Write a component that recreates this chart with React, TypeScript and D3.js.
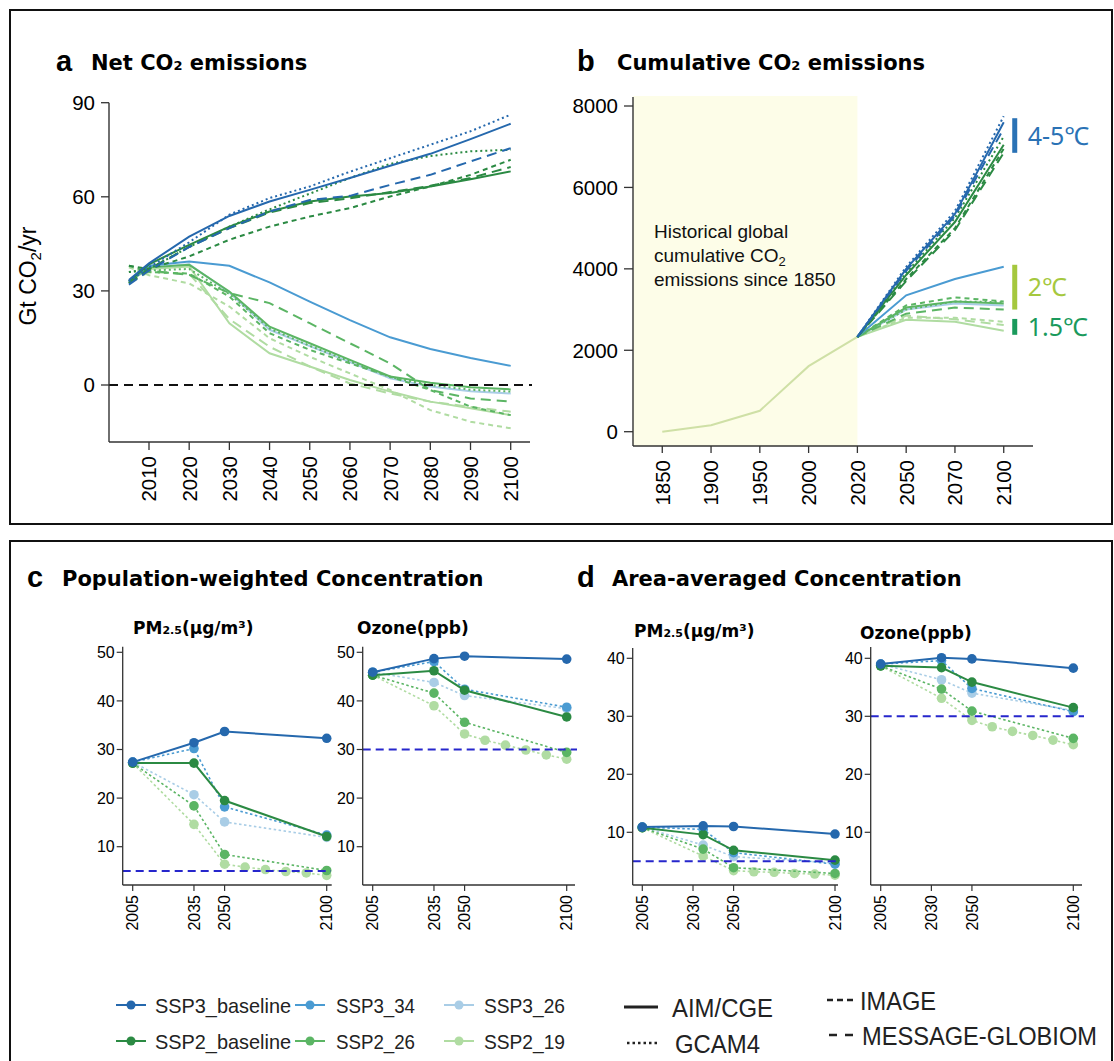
import React from "react";
import * as d3 from "d3";

// ---------------- colours / styles ----------------
const SCEN_COLORS: Record<string, string> = {
  SSP3_baseline: "#2568ad",
  SSP3_34: "#4a9bd2",
  SSP3_26: "#a9cde6",
  SSP2_baseline: "#2b8a43",
  SSP2_26: "#5bb564",
  SSP2_19: "#b0dca2",
};
const MODEL_DASH: Record<string, string | undefined> = {
  "AIM/CGE": undefined,
  GCAM4: "2,3",
  IMAGE: "5,4",
  "MESSAGE-GLOBIOM": "10,6",
};
const SANS = "'Liberation Sans', Arial, Helvetica, sans-serif";
const BOLD = "'DejaVu Sans', 'Liberation Sans', sans-serif";
const NARROW = "'Liberation Sans Narrow', 'Liberation Sans', Arial, sans-serif";

// ---------------- panel a: net CO2 (Gt CO2/yr) ----------------
const netYears = [2005, 2010, 2020, 2030, 2040, 2050, 2060, 2070, 2080, 2090, 2100];
const netTicksX = [2010, 2020, 2030, 2040, 2050, 2060, 2070, 2080, 2090, 2100];
const netTicksY = [0, 30, 60, 90];
const netSSP3BaseAIM = [33.5, 38.8, 47.3, 53.9, 58.5, 62.2, 66.0, 69.9, 73.7, 78.4, 83.3];
const netSSP3BaseGCAM = [33.0, 37.5, 45.5, 54.3, 59.6, 63.3, 68.0, 72.3, 76.6, 80.9, 86.2];
const netSSP3BaseMESSAGE = [32.0, 36.5, 44.0, 50.0, 55.3, 59.0, 60.3, 63.8, 67.0, 71.3, 75.5];
const netSSP2BaseAIM = [33.0, 38.5, 44.7, 50.5, 55.3, 58.5, 60.1, 61.2, 63.3, 65.6, 68.1];
const netSSP2BaseGCAM = [36.0, 37.0, 44.0, 50.5, 56.0, 61.0, 66.0, 70.5, 73.0, 74.5, 75.0];
const netSSP2BaseIMAGE = [38.0, 37.0, 41.0, 46.3, 50.5, 53.7, 56.4, 60.1, 63.3, 67.0, 71.8];
const netSSP2BaseMESSAGE = [32.5, 37.0, 44.0, 50.0, 55.0, 58.0, 59.5, 61.5, 63.5, 66.0, 69.5];
const netSSP3_34AIM = [33.0, 38.0, 39.4, 38.0, 32.7, 26.6, 20.7, 15.2, 11.5, 8.6, 6.1];
const netSSP3_26AIM = [33.0, 37.5, 38.5, 29.5, 17.6, 12.4, 7.3, 2.1, -0.5, -2.0, -2.7];
const netSSP2_26AIM = [33.0, 37.5, 38.3, 29.8, 18.6, 13.3, 8.0, 2.7, 0.7, -0.7, -1.4];
const netSSP2_26GCAM = [36.0, 36.5, 37.0, 29.0, 18.0, 12.5, 7.5, 2.5, 0.0, -1.5, -2.1];
const netSSP2_26IMAGE = [38.0, 36.0, 35.5, 28.2, 16.5, 11.2, 6.9, 2.7, -1.6, -6.9, -9.6];
const netSSP2_26MESSAGE = [32.5, 36.5, 35.1, 29.3, 26.1, 19.7, 13.3, 6.9, -1.6, -4.3, -5.3];
const netSSP2_19AIM = [33.0, 37.0, 37.8, 19.7, 10.1, 5.9, 1.6, -2.1, -5.3, -7.4, -9.6];
const netSSP2_19IMAGE = [37.5, 35.0, 32.4, 25.0, 14.9, 9.0, 3.7, -1.6, -8.0, -11.7, -13.8];
const netSSP2_19MESSAGE = [32.5, 36.0, 35.5, 21.0, 12.2, 5.9, 0.5, -2.7, -5.3, -7.0, -8.5];

// ---------------- panel b: cumulative CO2 (Gt CO2) ----------------
const cumCategories = ["1850", "1900", "1950", "2000", "2020", "2050", "2070", "2100"];
const cumTicksY = [0, 2000, 4000, 6000, 8000];
const cumHistYears = ["1850", "1900", "1950", "2000", "2020"];
const cumHist = [0, 160, 515, 1610, 2330];
const cumFutureYears = ["2020", "2050", "2070", "2100"];
const cumSSP3BaseAIM = [2330, 4000, 5350, 7600];
const cumSSP3BaseGCAM = [2330, 4050, 5420, 7750];
const cumSSP3BaseMESSAGE = [2330, 3950, 5300, 7450];
const cumSSP2BaseAIM = [2330, 3850, 5150, 7050];
const cumSSP2BaseGCAM = [2330, 3900, 5250, 7250];
const cumSSP2BaseIMAGE = [2330, 3750, 5000, 6950];
const cumSSP2BaseMESSAGE = [2330, 3700, 4950, 6850];
const cumSSP3_34AIM = [2330, 3350, 3750, 4050];
const cumSSP3_26AIM = [2330, 3000, 3150, 3100];
const cumSSP2_26AIM = [2330, 3050, 3200, 3150];
const cumSSP2_26GCAM = [2330, 3000, 3200, 3180];
const cumSSP2_26IMAGE = [2330, 3100, 3300, 3200];
const cumSSP2_26MESSAGE = [2330, 2900, 3050, 3000];
const cumSSP2_19AIM = [2330, 2750, 2700, 2480];
const cumSSP2_19IMAGE = [2330, 2800, 2800, 2700];
const cumSSP2_19MESSAGE = [2330, 2850, 2760, 2620];
const tempLabels = ["4-5℃", "2℃", "1.5℃"];
const tempLow = [6850, 3000, 2380];
const tempHigh = [7700, 4100, 2770];
const tempColors = ["#2a72b5", "#a5c83e", "#1a9a5c"];

// series table (built from the arrays above), drawn light-first
const scenarioSeries = [
  { scen: "SSP2_19", model: "IMAGE", net: netSSP2_19IMAGE, cum: cumSSP2_19IMAGE },
  { scen: "SSP2_19", model: "MESSAGE-GLOBIOM", net: netSSP2_19MESSAGE, cum: cumSSP2_19MESSAGE },
  { scen: "SSP2_19", model: "AIM/CGE", net: netSSP2_19AIM, cum: cumSSP2_19AIM },
  { scen: "SSP3_26", model: "AIM/CGE", net: netSSP3_26AIM, cum: cumSSP3_26AIM },
  { scen: "SSP2_26", model: "MESSAGE-GLOBIOM", net: netSSP2_26MESSAGE, cum: cumSSP2_26MESSAGE },
  { scen: "SSP2_26", model: "IMAGE", net: netSSP2_26IMAGE, cum: cumSSP2_26IMAGE },
  { scen: "SSP2_26", model: "GCAM4", net: netSSP2_26GCAM, cum: cumSSP2_26GCAM },
  { scen: "SSP2_26", model: "AIM/CGE", net: netSSP2_26AIM, cum: cumSSP2_26AIM },
  { scen: "SSP3_34", model: "AIM/CGE", net: netSSP3_34AIM, cum: cumSSP3_34AIM },
  { scen: "SSP2_baseline", model: "IMAGE", net: netSSP2BaseIMAGE, cum: cumSSP2BaseIMAGE },
  { scen: "SSP2_baseline", model: "MESSAGE-GLOBIOM", net: netSSP2BaseMESSAGE, cum: cumSSP2BaseMESSAGE },
  { scen: "SSP2_baseline", model: "GCAM4", net: netSSP2BaseGCAM, cum: cumSSP2BaseGCAM },
  { scen: "SSP2_baseline", model: "AIM/CGE", net: netSSP2BaseAIM, cum: cumSSP2BaseAIM },
  { scen: "SSP3_baseline", model: "MESSAGE-GLOBIOM", net: netSSP3BaseMESSAGE, cum: cumSSP3BaseMESSAGE },
  { scen: "SSP3_baseline", model: "GCAM4", net: netSSP3BaseGCAM, cum: cumSSP3BaseGCAM },
  { scen: "SSP3_baseline", model: "AIM/CGE", net: netSSP3BaseAIM, cum: cumSSP3BaseAIM },
];

// ---------------- panels c / d: concentrations ----------------
const concYears = [2005, 2035, 2050, 2100];
const concYears19 = [2005, 2035, 2050, 2060, 2070, 2080, 2090, 2100];
const cTicksX = [2005, 2035, 2050, 2100];
const dTicksX = [2005, 2030, 2050, 2100];
const cTicksY = [10, 20, 30, 40, 50];
const dTicksY = [10, 20, 30, 40];
const pmGuide = 5;
const ozoneGuide = 30;

const cPM_SSP3_baseline = [27.4, 31.4, 33.7, 32.3];
const cPM_SSP3_34 = [27.4, 30.2, 18.2, 12.4];
const cPM_SSP3_26 = [27.4, 20.7, 15.1, 11.9];
const cPM_SSP2_baseline = [27.2, 27.2, 19.5, 12.1];
const cPM_SSP2_26 = [27.2, 18.4, 8.4, 5.1];
const cPM_SSP2_19 = [27.2, 14.6, 6.4, 5.8, 5.3, 4.9, 4.6, 4.1];

const cO3_SSP3_baseline = [45.9, 48.7, 49.2, 48.6];
const cO3_SSP3_34 = [45.9, 48.1, 42.4, 38.7];
const cO3_SSP3_26 = [45.9, 43.8, 41.1, 38.4];
const cO3_SSP2_baseline = [45.3, 46.2, 42.2, 36.7];
const cO3_SSP2_26 = [45.3, 41.6, 35.6, 29.4];
const cO3_SSP2_19 = [45.3, 39.0, 33.2, 31.9, 30.9, 29.9, 28.9, 28.0];

const dPM_SSP3_baseline = [10.9, 11.1, 11.0, 9.7];
const dPM_SSP3_34 = [10.9, 10.5, 6.5, 4.5];
const dPM_SSP3_26 = [10.9, 7.8, 5.8, 4.7];
const dPM_SSP2_baseline = [10.8, 9.6, 6.9, 5.2];
const dPM_SSP2_26 = [10.8, 7.1, 3.9, 2.9];
const dPM_SSP2_19 = [10.8, 5.9, 3.4, 3.2, 3.1, 2.9, 2.8, 2.6];

const dO3_SSP3_baseline = [39.0, 40.1, 39.9, 38.3];
const dO3_SSP3_34 = [39.0, 39.6, 34.8, 30.8];
const dO3_SSP3_26 = [39.0, 36.3, 34.0, 31.0];
const dO3_SSP2_baseline = [38.7, 38.4, 35.9, 31.5];
const dO3_SSP2_26 = [38.7, 34.7, 30.9, 26.2];
const dO3_SSP2_19 = [38.7, 33.1, 29.3, 28.2, 27.4, 26.7, 25.9, 25.1];

const legendScenRow1 = ["SSP3_baseline", "SSP3_34", "SSP3_26"];
const legendScenRow2 = ["SSP2_baseline", "SSP2_26", "SSP2_19"];

const AX = "#333";

// ---------------- Panel A ----------------
function PanelA() {
  const x = d3.scaleLinear().domain([2005, 2100]).range([128.9, 510.7]);
  const y = d3.scaleLinear().domain([0, 90]).range([385, 102.7]);
  const axL = 109, axR = 530, axB = 442, axT = 102.7;
  const line = d3.line<number>().x((_, i) => x(netYears[i])).y((d) => y(d));
  return (
    <g>
      <text x={56} y={71} fontFamily={SANS} fontWeight="bold" fontSize={29}>a</text>
      <text x={91} y={70} fontFamily={BOLD} fontWeight="bold" fontSize={21}>
        Net CO<tspan fontSize={13}>2</tspan> emissions
      </text>
      <text transform="translate(36,276) rotate(-90)" textAnchor="middle" fontFamily={SANS} fontSize={23}>
        Gt CO<tspan fontSize={15} dy={5}>2</tspan><tspan dy={-5}>/yr</tspan>
      </text>
      {scenarioSeries.map((s, i) => (
        <path key={i} d={line(s.net) || ""} fill="none" stroke={SCEN_COLORS[s.scen]}
          strokeWidth={2} strokeDasharray={MODEL_DASH[s.model]} />
      ))}
      <line x1={axL} x2={axR + 2} y1={y(0)} y2={y(0)} stroke="#111" strokeWidth={2} strokeDasharray="9,6" />
      <line x1={axL} x2={axL} y1={axT} y2={axB} stroke={AX} strokeWidth={1.4} />
      <line x1={axL} x2={axR} y1={axB} y2={axB} stroke={AX} strokeWidth={1.4} />
      {netTicksY.map((t) => (
        <g key={t}>
          <line x1={axL - 8} x2={axL} y1={y(t)} y2={y(t)} stroke={AX} strokeWidth={1.3} />
          <text x={axL - 14} y={y(t)} dy="0.36em" textAnchor="end" fontFamily={SANS} fontSize={20.5}>{t}</text>
        </g>
      ))}
      {netTicksX.map((t) => (
        <g key={t}>
          <line x1={x(t)} x2={x(t)} y1={axB} y2={axB + 8} stroke={AX} strokeWidth={1.3} />
          <text transform={`translate(${x(t)},${axB + 14}) rotate(-90)`} dy="0.36em" textAnchor="end"
            fontFamily={SANS} fontSize={20.5}>{t}</text>
        </g>
      ))}
    </g>
  );
}

// ---------------- Panel B ----------------
function PanelB() {
  const x = d3.scalePoint<string>().domain(cumCategories).range([633, 1033]).padding(0.6);
  const y = d3.scaleLinear().domain([0, 8000]).range([431.7, 106]);
  const axL = 633, axR = 1033, axB = 446, axT = 97;
  const histLine = d3.line<number>().x((_, i) => x(cumHistYears[i]) as number).y((d) => y(d));
  const futLine = d3.line<number>().x((_, i) => x(cumFutureYears[i]) as number).y((d) => y(d));
  const barX = (x("2100") as number) + 11;
  return (
    <g>
      <text x={577} y={71} fontFamily={SANS} fontWeight="bold" fontSize={29}>b</text>
      <text x={617} y={70} fontFamily={BOLD} fontWeight="bold" fontSize={21}>
        Cumulative CO<tspan fontSize={13}>2</tspan> emissions
      </text>
      <rect x={axL} y={96} width={(x("2020") as number) - axL} height={axB - 96} fill="#fdfde8" />
      <text fontFamily={SANS} fontSize={19} fill="#111">
        <tspan x={654} y={238}>Historical global</tspan>
        <tspan x={654} y={262}>cumulative CO<tspan fontSize={13} dy={4}>2</tspan></tspan>
        <tspan x={654} y={286}>emissions since 1850</tspan>
      </text>
      <path d={histLine(cumHist) || ""} fill="none" stroke="#cfe0a6" strokeWidth={2} />
      {scenarioSeries.map((s, i) => (
        <path key={i} d={futLine(s.cum) || ""} fill="none" stroke={SCEN_COLORS[s.scen]}
          strokeWidth={2} strokeDasharray={MODEL_DASH[s.model]} />
      ))}
      <line x1={axL} x2={axL} y1={axT} y2={axB} stroke={AX} strokeWidth={1.4} />
      <line x1={axL} x2={axR} y1={axB} y2={axB} stroke={AX} strokeWidth={1.4} />
      {cumTicksY.map((t) => (
        <g key={t}>
          <line x1={axL - 9} x2={axL} y1={y(t)} y2={y(t)} stroke={AX} strokeWidth={1.3} />
          <text x={axL - 15} y={y(t)} dy="0.36em" textAnchor="end" fontFamily={SANS} fontSize={20.5}>{t}</text>
        </g>
      ))}
      {cumCategories.map((t) => (
        <g key={t}>
          <line x1={x(t) as number} x2={x(t) as number} y1={axB} y2={axB + 7} stroke={AX} strokeWidth={1.3} />
          <text transform={`translate(${x(t)},${axB + 14}) rotate(-90)`} dy="0.36em" textAnchor="end"
            fontFamily={SANS} fontSize={20.5}>{t}</text>
        </g>
      ))}
      {tempLabels.map((lab, i) => (
        <g key={lab}>
          <rect x={barX - 2.5} y={y(tempHigh[i])} width={5} height={y(tempLow[i]) - y(tempHigh[i])} fill={tempColors[i]} />
          <text x={barX + 13} y={y((tempLow[i] + tempHigh[i]) / 2)} dy="0.36em" fill={tempColors[i]}
            fontFamily="'Noto Sans', 'Noto Sans CJK SC', sans-serif" fontSize={25}>{lab}</text>
        </g>
      ))}
    </g>
  );
}

// ---------------- Panels C / D ----------------
type ConcCfg = {
  x0: number; x1: number; y0: number; y1: number; yv0: number; yv1: number;
  axL: number; axR: number; axT: number; axB: number;
  xTicks: number[]; yTicks: number[]; guide: number; guideR: number;
  series: { scen: string; vals: number[] }[];
};

function ConcPanel({ c }: { c: ConcCfg }) {
  const x = d3.scaleLinear().domain([2005, 2100]).range([c.x0, c.x1]);
  const y = d3.scaleLinear().domain([c.yv0, c.yv1]).range([c.y0, c.y1]);
  return (
    <g>
      {c.series.map((s) => {
        const yrs = s.vals.length === concYears19.length ? concYears19 : concYears;
        const ln = d3.line<number>().x((_, i) => x(yrs[i])).y((d) => y(d));
        const solid = s.scen.endsWith("baseline");
        return (
          <g key={s.scen}>
            <path d={ln(s.vals) || ""} fill="none" stroke={SCEN_COLORS[s.scen]}
              strokeWidth={solid ? 2 : 1.6} strokeDasharray={solid ? undefined : "2.5,2.5"} />
            {s.vals.map((v, i) => (
              <circle key={i} cx={x(yrs[i])} cy={y(v)} r={4.8} fill={SCEN_COLORS[s.scen]} />
            ))}
          </g>
        );
      })}
      <line x1={c.axL} x2={c.guideR} y1={y(c.guide)} y2={y(c.guide)} stroke="#2626cc" strokeWidth={2} strokeDasharray="8,5" />
      <line x1={c.axL} x2={c.axL} y1={c.axT} y2={c.axB} stroke={AX} strokeWidth={1.3} />
      <line x1={c.axL} x2={c.axR} y1={c.axB} y2={c.axB} stroke={AX} strokeWidth={1.3} />
      {c.yTicks.map((t) => (
        <g key={t}>
          <line x1={c.axL - 6} x2={c.axL} y1={y(t)} y2={y(t)} stroke={AX} strokeWidth={1.2} />
          <text x={c.axL - 8} y={y(t)} dy="0.36em" textAnchor="end" fontFamily={SANS} fontSize={16}>{t}</text>
        </g>
      ))}
      {c.xTicks.map((t) => (
        <g key={t}>
          <line x1={x(t)} x2={x(t)} y1={c.axB} y2={c.axB + 6} stroke={AX} strokeWidth={1.2} />
          <text transform={`translate(${x(t)},${c.axB + 10}) rotate(-90)`} dy="0.36em" textAnchor="end"
            fontFamily={SANS} fontSize={16}>{t}</text>
        </g>
      ))}
    </g>
  );
}

function seriesOf(a: number[], b: number[], cc: number[], d: number[], e: number[], f: number[]) {
  return [
    { scen: "SSP2_19", vals: f },
    { scen: "SSP3_26", vals: cc },
    { scen: "SSP2_26", vals: e },
    { scen: "SSP3_34", vals: b },
    { scen: "SSP2_baseline", vals: d },
    { scen: "SSP3_baseline", vals: a },
  ];
}

function PMTitle({ x, y }: { x: number; y: number }) {
  return (
    <text x={x} y={y} fontFamily={BOLD} fontWeight="bold" fontSize={17}>
      PM<tspan fontSize={11}>2.5</tspan>(μg/m³)
    </text>
  );
}

function PanelsCD() {
  const cPM: ConcCfg = {
    x0: 132.7, x1: 326.7, y0: 846.7, y1: 652.3, yv0: 10, yv1: 50,
    axL: 122.7, axR: 331.7, axT: 646.7, axB: 885,
    xTicks: cTicksX, yTicks: cTicksY, guide: pmGuide, guideR: 331,
    series: seriesOf(cPM_SSP3_baseline, cPM_SSP3_34, cPM_SSP3_26, cPM_SSP2_baseline, cPM_SSP2_26, cPM_SSP2_19),
  };
  const cO3: ConcCfg = {
    x0: 372.7, x1: 566.7, y0: 846.7, y1: 652.3, yv0: 10, yv1: 50,
    axL: 362.7, axR: 575, axT: 646.7, axB: 885,
    xTicks: cTicksX, yTicks: cTicksY, guide: ozoneGuide, guideR: 577,
    series: seriesOf(cO3_SSP3_baseline, cO3_SSP3_34, cO3_SSP3_26, cO3_SSP2_baseline, cO3_SSP2_26, cO3_SSP2_19),
  };
  const dPM: ConcCfg = {
    x0: 642.3, x1: 835, y0: 832.3, y1: 658.3, yv0: 10, yv1: 40,
    axL: 632.7, axR: 838, axT: 648, axB: 885,
    xTicks: dTicksX, yTicks: dTicksY, guide: pmGuide, guideR: 838,
    series: seriesOf(dPM_SSP3_baseline, dPM_SSP3_34, dPM_SSP3_26, dPM_SSP2_baseline, dPM_SSP2_26, dPM_SSP2_19),
  };
  const dO3: ConcCfg = {
    x0: 880.7, x1: 1073.3, y0: 832.3, y1: 658.3, yv0: 10, yv1: 40,
    axL: 870.7, axR: 1082, axT: 647, axB: 885,
    xTicks: dTicksX, yTicks: dTicksY, guide: ozoneGuide, guideR: 1084,
    series: seriesOf(dO3_SSP3_baseline, dO3_SSP3_34, dO3_SSP3_26, dO3_SSP2_baseline, dO3_SSP2_26, dO3_SSP2_19),
  };
  return (
    <g>
      <text x={27} y={587} fontFamily={SANS} fontWeight="bold" fontSize={29}>c</text>
      <text x={62} y={586} fontFamily={BOLD} fontWeight="bold" fontSize={21}>Population-weighted Concentration</text>
      <text x={577} y={587} fontFamily={SANS} fontWeight="bold" fontSize={29}>d</text>
      <text x={612} y={586} fontFamily={BOLD} fontWeight="bold" fontSize={21}>Area-averaged Concentration</text>
      <PMTitle x={133} y={634} />
      <text x={357} y={634} fontFamily={BOLD} fontWeight="bold" fontSize={17}>Ozone(ppb)</text>
      <PMTitle x={634} y={637} />
      <text x={860} y={639} fontFamily={BOLD} fontWeight="bold" fontSize={17}>Ozone(ppb)</text>
      <ConcPanel c={cPM} />
      <ConcPanel c={cO3} />
      <ConcPanel c={dPM} />
      <ConcPanel c={dO3} />
    </g>
  );
}

// ---------------- Legend ----------------
function Legend() {
  const colX = [116, 295, 444];
  const textX = [155, 336, 484];
  const textW = [136, 79, 81];
  const rowY = [1005, 1041];
  const rows = [legendScenRow1, legendScenRow2];
  return (
    <g>
      {rows.map((row, r) =>
        row.map((scen, i) => (
          <g key={scen}>
            <line x1={colX[i]} x2={colX[i] + 30} y1={rowY[r]} y2={rowY[r]} stroke={SCEN_COLORS[scen]} strokeWidth={2} />
            <circle cx={colX[i] + 15} cy={rowY[r]} r={4.5} fill={SCEN_COLORS[scen]} />
            <text x={textX[i]} y={rowY[r]} dy="0.36em" fontFamily={NARROW} fontSize={21}
              textLength={textW[i]} lengthAdjust="spacingAndGlyphs" fill="#222">{scen}</text>
          </g>
        ))
      )}
      <line x1={624} x2={658} y1={1007} y2={1007} stroke="#222" strokeWidth={3} />
      <text x={672} y={1008} dy="0.36em" fontFamily={NARROW} fontSize={25} textLength={101} lengthAdjust="spacingAndGlyphs" fill="#222">AIM/CGE</text>
      <line x1={627} x2={660} y1={1043} y2={1043} stroke="#222" strokeWidth={2.5} strokeDasharray="2.5,3" />
      <text x={675} y={1044} dy="0.36em" fontFamily={NARROW} fontSize={25} textLength={85} lengthAdjust="spacingAndGlyphs" fill="#222">GCAM4</text>
      <line x1={827} x2={853} y1={1000} y2={1000} stroke="#222" strokeWidth={2.5} strokeDasharray="6,4" />
      <text x={860} y={1001} dy="0.36em" fontFamily={NARROW} fontSize={25} textLength={76} lengthAdjust="spacingAndGlyphs" fill="#222">IMAGE</text>
      <line x1={829} x2={853} y1={1035} y2={1035} stroke="#222" strokeWidth={2.5} strokeDasharray="8,8" />
      <text x={862} y={1036} dy="0.36em" fontFamily={NARROW} fontSize={25} textLength={235} lengthAdjust="spacingAndGlyphs" fill="#222">MESSAGE-GLOBIOM</text>
    </g>
  );
}

export default function App() {
  return (
    <svg width={1114} height={1061} viewBox="0 0 1114 1061"
      style={{ position: "absolute", left: 0, top: 0, background: "#fff" }}>
      <rect x={0} y={0} width={1114} height={1061} fill="#fff" />
      <rect x={10} y={10} width={1102} height={514} fill="none" stroke="#111" strokeWidth={2} />
      <rect x={10} y={541} width={1102} height={540} fill="none" stroke="#111" strokeWidth={2} />
      <PanelA />
      <PanelB />
      <PanelsCD />
      <Legend />
    </svg>
  );
}
